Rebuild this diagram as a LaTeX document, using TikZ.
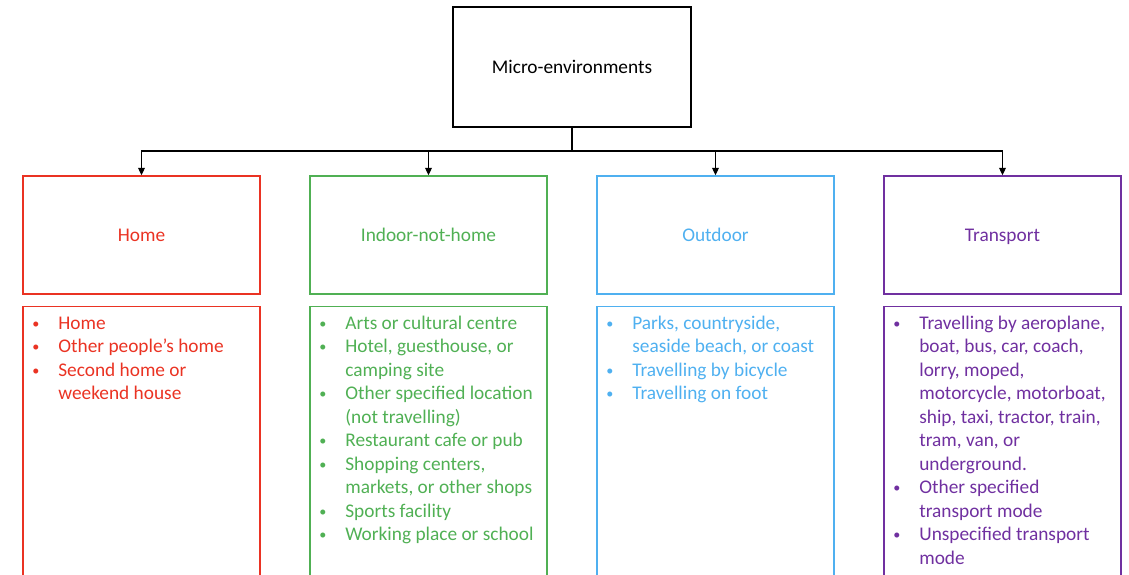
\documentclass[tikz,border=0pt]{standalone}
\usepackage{fontspec}
\setmainfont{Carlito}
\usetikzlibrary{arrows.meta,positioning}
\definecolor{homered}{RGB}{234,51,35}
\definecolor{indoorgreen}{RGB}{80,176,84}
\definecolor{outdoorblue}{RGB}{79,176,240}
\definecolor{transportpurple}{RGB}{112,48,160}
\newcommand{\listbul}{\raisebox{0.6pt}{\fontsize{8.5}{10}\selectfont\textbullet}}
\newenvironment{bulletlist}{\begin{tabular}[t]{@{}p{15.6pt}@{}l@{}}}{\end{tabular}}
\begin{document}
\begin{tikzpicture}[x=0.6pt, y=-0.6pt,
	font=\fontsize{11.6}{14.1}\selectfont,
	topbox/.style={draw, line width=0.9pt, minimum width=142.8pt, minimum height=72pt, inner sep=0pt},
	catbox/.style={draw=#1, text=#1, line width=0.8pt, minimum width=142.2pt, minimum height=70.8pt, inner sep=0pt, text height=8.5pt, text depth=1.3pt},
	listbox/.style={draw=#1, line width=0.8pt, minimum width=142.2pt, minimum height=190pt, anchor=north, inner sep=0pt},
	listtext/.style={text=#1, anchor=base west, inner sep=0pt, align=left},
	forkarrow/.style={-{Triangle[length=4.5pt, width=4pt]}, line width=0.8pt}]
		\useasboundingbox (0,0) rectangle (1129,574);
		\clip (0,0) rectangle (1129,574);
		\node[topbox] (micro) at (572,67) {Micro-environments};
		\node[catbox=homered] (home) at (141.5,235) {Home};
		\node[catbox=indoorgreen] (indoor) at (428.5,235) {Indoor-not-home};
		\node[catbox=outdoorblue] (outdoor) at (715.5,235) {Outdoor};
		\node[catbox=transportpurple] (transport) at (1002.5,235) {Transport};
		\coordinate (fork) at (572,151);
		\draw[line width=0.8pt] (micro.south) -- (fork);
		\foreach \cat in {home,indoor,outdoor,transport}
			\draw[forkarrow] (fork) -| (\cat.north);
		\node[listbox=homered] (homelist) at (141.5,306) {};
		\node[listbox=indoorgreen] (indoorlist) at (428.5,306) {};
		\node[listbox=outdoorblue] (outdoorlist) at (715.5,306) {};
		\node[listbox=transportpurple] (transportlist) at (1002.5,306) {};
		\node[listtext=homered] (homeitems) at (32,329) {\begin{bulletlist}
			\listbul & Home\\
			\listbul & Other people’s home\\
			\listbul & Second home or\\
			& weekend house
		\end{bulletlist}};
		\node[listtext=indoorgreen] (indooritems) at (319,329) {\begin{bulletlist}
			\listbul & Arts or cultural centre\\
			\listbul & Hotel, guesthouse, or\\
			& camping site\\
			\listbul & Other specified location\\
			& (not travelling)\\
			\listbul & Restaurant cafe or pub\\
			\listbul & Shopping centers,\\
			& markets, or other shops\\
			\listbul & Sports facility\\
			\listbul & Working place or school
		\end{bulletlist}};
		\node[listtext=outdoorblue] (outdooritems) at (606,329) {\begin{bulletlist}
			\listbul & Parks, countryside,\\
			& seaside beach, or coast\\
			\listbul & Travelling by bicycle\\
			\listbul & Travelling on foot
		\end{bulletlist}};
		\node[listtext=transportpurple] (transportitems) at (893,329) {\begin{bulletlist}
			\listbul & Travelling by aeroplane,\\
			& boat, bus, car, coach,\\
			& lorry, moped,\\
			& motorcycle, motorboat,\\
			& ship, taxi, tractor, train,\\
			& tram, van, or\\
			& underground.\\
			\listbul & Other specified\\
			& transport mode\\
			\listbul & Unspecified transport\\
			& mode
		\end{bulletlist}};
	\end{tikzpicture}
\end{document}
